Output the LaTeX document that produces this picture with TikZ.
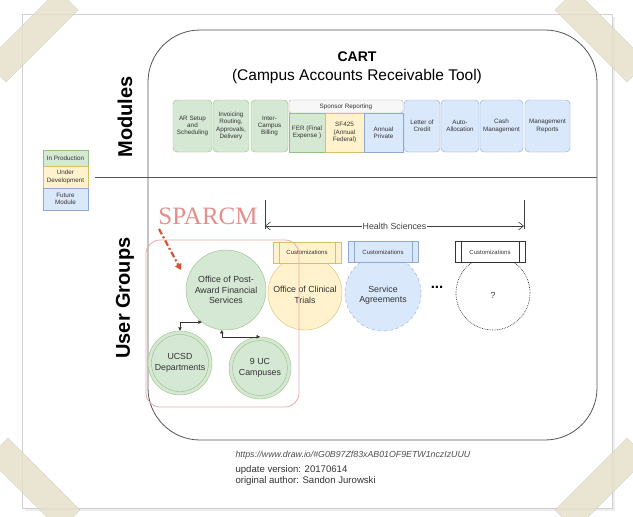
\documentclass[tikz,border=0pt]{standalone}
\usepackage{fontspec}
\setmainfont{Liberation Sans}
\newfontfamily\sparcfont{Liberation Serif}
\usetikzlibrary{arrows.meta}
\definecolor{gfill}{HTML}{D5E8D4}
\definecolor{gline}{HTML}{93BF80}
\definecolor{yfill}{HTML}{FFF2CC}
\definecolor{yline}{HTML}{D9BE6A}
\definecolor{bfill}{HTML}{DAE8FC}
\definecolor{bline}{HTML}{8FA9D2}
\definecolor{txt}{HTML}{333333}
\definecolor{pinkline}{HTML}{EBA8A8}
\definecolor{sparc}{HTML}{E58E8E}
\definecolor{redarrow}{HTML}{D4553A}
\definecolor{tapec}{HTML}{E6E1CB}
\definecolor{paperline}{HTML}{D0D0D0}
\definecolor{frameline}{HTML}{555555}
\tikzset{
  mod/.style={draw, rounded corners=4pt, align=center, inner sep=0pt, font=\fontsize{6.3}{7.4}\selectfont, text=txt, minimum height=52pt},
  gmod/.style={mod, fill=gfill, draw=gline},
  bmod/.style={mod, fill=bfill, draw=bline},
  sub/.style={draw, align=center, inner sep=0pt, font=\fontsize{6.3}{7.4}\selectfont, text=txt, minimum height=39pt},
  leg/.style={draw, align=center, inner sep=0pt, font=\fontsize{6.3}{7.4}\selectfont, text=txt, minimum width=45pt},
  grp/.style={circle, draw, inner sep=0pt, align=center, text=txt, font=\fontsize{8.8}{10.4}\selectfont},
  custbox/.style={draw, minimum width=70pt, minimum height=21pt, inner sep=0pt, font=\fontsize{6}{7}\selectfont, text=txt},
  conn/.style={black!80, line width=0.6pt, {Triangle[length=3.5pt,width=3.5pt]}-{Triangle[length=3.5pt,width=3.5pt]}},
  tape/.style={fill=tapec, draw=tapec!85!black, line width=0.3pt, opacity=0.85}
}
\begin{document}
\begin{tikzpicture}[x=1pt,y=-1pt]
\useasboundingbox (0,0) rectangle (633,517);
% paper
\fill[black!7] (25,17) rectangle (615,511);
\draw[paperline, fill=white] (22,14) rectangle (612,508);
% main frame
\draw[frameline, line width=0.8pt, rounded corners=52pt] (148,30) rectangle (597,440);
\coordinate (divL) at (95,177);
\coordinate (divR) at (597,177);
\draw[frameline, line width=0.8pt] (divL) -- (divR);
% section titles
\node[rotate=90, font=\bfseries\fontsize{20}{20}\selectfont] (tmod) at (125,117) {Modules};
\node[rotate=90, font=\bfseries\fontsize{20}{20}\selectfont] (tusr) at (125,298) {User Groups};
\node[font=\bfseries\fontsize{14}{14}\selectfont] (cart) at (357,57) {CART};
\node[font=\fontsize{15.5}{16}\selectfont] (cartsub) at (357,76) {(Campus Accounts Receivable Tool)};
% legend
\node[leg, fill=gfill, draw=gline, minimum height=16pt] (lg1) at (65.5,158) {In Production};
\node[leg, fill=yfill, draw=yline, minimum height=22pt] (lg2) at (65.5,177) {Under\\Development};
\node[leg, fill=bfill, draw=bline, minimum height=22pt] (lg3) at (65.5,199) {Future\\Module};
% modules
\node[gmod, minimum width=39pt] (m1) at (192.5,126) {AR Setup\\and\\Scheduling};
\node[gmod, minimum width=36pt] (m2) at (231,126) {Invoicing\\Routing,\\Approvals,\\Delivery};
\node[gmod, minimum width=37pt] (m3) at (269.5,126) {Inter-\\Campus\\Billing};
\node[draw=black!35, fill=black!3, rounded corners=2pt, minimum width=114pt, minimum height=13pt, inner sep=0pt, font=\fontsize{6.3}{7.4}\selectfont, text=txt] (spons) at (346,106.5) {Sponsor Reporting};
\node[sub, fill=gfill, draw=gline, minimum width=36pt] (m4) at (307,132.5) {FER (Final\\Expense )};
\node[sub, fill=yfill, draw=yline, minimum width=39pt] (m5) at (344.5,132.5) {SF425\\(Annual\\Federal)};
\node[sub, fill=bfill, draw=bline, minimum width=39pt] (m6) at (383.5,132.5) {Annual\\Private};
\node[bmod, minimum width=36pt] (m7) at (422,126) {Letter of\\Credit};
\node[bmod, minimum width=38pt] (m8) at (460,126) {Auto-\\Allocation};
\node[bmod, minimum width=43pt] (m9) at (501.5,126) {Cash\\Management};
\node[bmod, minimum width=45pt] (m10) at (547.5,126) {Management\\Reports};
% health sciences bracket
\coordinate (hsLt) at (265,200);
\coordinate (hsLb) at (265,229);
\coordinate (hsRt) at (524,200);
\coordinate (hsRb) at (524,229);
\coordinate (hsa) at (265,226);
\coordinate (hsb) at (524,226);
\draw[black!75, line width=0.6pt] (hsLt) -- (hsLb);
\draw[black!75, line width=0.6pt] (hsRt) -- (hsRb);
\draw[black!75, line width=0.6pt, {Straight Barb[length=5pt,width=8pt]}-{Straight Barb[length=5pt,width=8pt]}] (hsa) -- node[fill=white, inner sep=0.8pt, text=black!75, font=\fontsize{8.8}{9}\selectfont] (hslab) {Health Sciences} (hsb);
% SPARCM
\node[font=\sparcfont\fontsize{25}{25}\selectfont, text=sparc] (sparcm) at (208,216) {SPARCM};
\coordinate (ra1) at (159,229);
\coordinate (ra2) at (181,270);
% group circles
\node[grp, fill=yfill, draw=yline, minimum size=74pt] (clin) at (305,293) {\\Office of Clinical\\Trials};
\node[grp, fill=bfill, draw=bline, dashed, minimum size=76pt] (serv) at (383,293) {\\Service\\Agreements};
\node[grp, fill=white, draw=black!80, densely dotted, line width=0.7pt, minimum size=74pt] (qm) at (493,293) {\\?};
\node[custbox, fill=yfill, draw=yline, minimum width=68pt] (cy) at (307,252.5) {Customizations};
\node[custbox, fill=bfill, draw=bline] (cb) at (383,252) {Customizations};
\node[custbox, fill=white, draw=black!80] (cw) at (490,252) {Customizations};
\foreach \b/\c in {cy/yline, cb/bline, cw/black!80}{
  \draw[\c] ([xshift=6pt]\b.north west) -- ([xshift=6pt]\b.south west);
  \draw[\c] ([xshift=-6pt]\b.north east) -- ([xshift=-6pt]\b.south east);
}
\node[font=\bfseries\fontsize{15}{15}\selectfont] (dots) at (437,287) {...};
\node[grp, fill=gfill, draw=gline, minimum size=80pt] (office) at (226,290) {Office of Post-\\Award Financial\\Services};
\node[grp, fill=gfill, draw=gline, minimum size=64pt] (ucsd) at (180,363) {UCSD\\Departments};
\draw[gline] (ucsd.center) circle (28.5pt);
\node[grp, fill=gfill, draw=gline, minimum size=62pt] (nine) at (260,368) {9 UC\\Campuses};
\draw[gline] (nine.center) circle (27.5pt);
\draw[conn] (ucsd.north) |- (office.233);
\draw[conn] (office.264) |- (nine.north);
% SPARCM group box
\draw[pinkline, line width=0.8pt, rounded corners=14pt] (146,240) rectangle (299,407);
\draw[redarrow, line width=2.2pt, dash pattern=on 6pt off 2.5pt on 2pt off 2.5pt, -{Triangle[length=6pt,width=7pt]}] (ra1) -- (ra2);
% footer
\node[anchor=west, font=\itshape\fontsize{8.8}{9}\selectfont, text=black!70] (url) at (232,455) {https://www.draw.io/\#G0B97Zf83xAB01OF9ETW1nczIzUUU};
\node[anchor=west, font=\fontsize{9.6}{10}\selectfont, text=black!80] (upd) at (232,470) {update version: 20170614};
\node[anchor=west, font=\fontsize{9.6}{10}\selectfont, text=black!80] (auth) at (232,481) {original author: Sandon Jurowski};
% tapes
\fill[tape] (-14,62) -- (58,-10) -- (78,10) -- (6,82) -- cycle;
\fill[tape] (575,-10) -- (647,62) -- (627,82) -- (555,10) -- cycle;
\fill[tape] (-12,458) -- (60,530) -- (80,510) -- (8,438) -- cycle;
\fill[tape] (647,458) -- (575,530) -- (555,510) -- (627,438) -- cycle;
\end{tikzpicture}
\end{document}
